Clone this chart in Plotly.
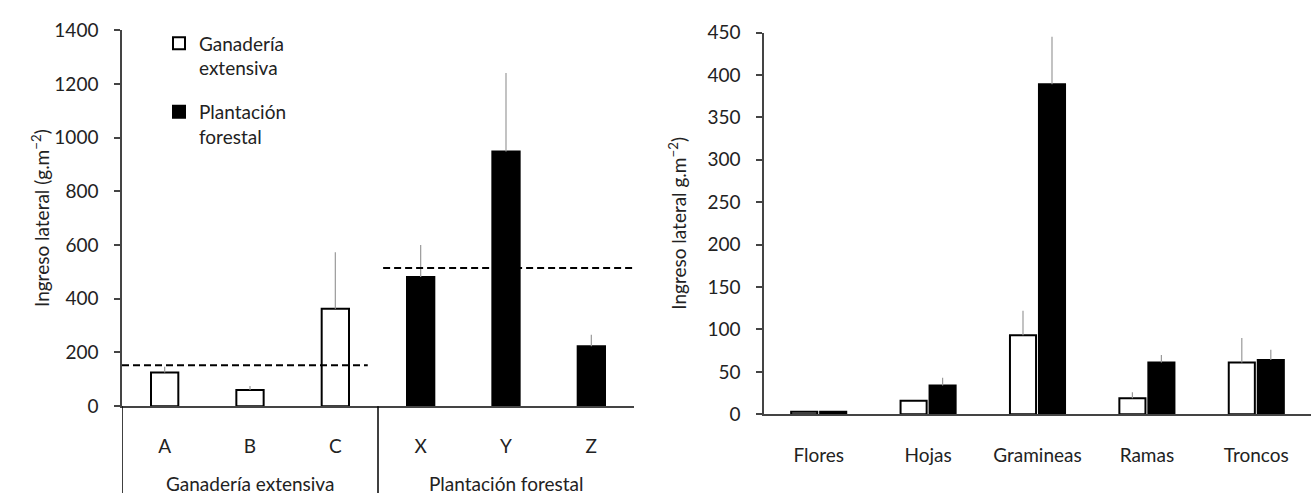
import plotly.graph_objects as go

# ---------------- data ----------------
left_categories = ["A", "B", "C", "X", "Y", "Z"]
left_groups = ["Ganadería extensiva", "Plantación forestal"]
ganaderia_left = [125, 60, 363]
ganaderia_left_err = [22, 15, 210]
plantacion_left = [481, 948, 223]
plantacion_left_err = [119, 292, 43]
group_means = [152, 514]

right_categories = ["Flores", "Hojas", "Gramineas", "Ramas", "Troncos"]
ganaderia_right = [3, 16, 93, 19, 61]
ganaderia_right_err = [0, 0, 29, 7, 29]
plantacion_right = [3, 34, 389, 61, 64]
plantacion_right_err = [0, 9, 56, 9, 12]

legend_names = ["Ganadería<br>extensiva", "Plantación<br>forestal"]

# ---------------- style ----------------
FONT = "Lato"
FS = 19
TXT = "#222222"
AXC = "#444444"
ERRC = "#9a9a9a"
W, H = 1314, 504

L_dom = [122 / W, 634 / W]
L_ydom = [1 - 413 / H, 1 - 19 / H]
R_dom = [764 / W, 1311 / W]
R_ydom = [1 - 421.5 / H, 1 - 21.5 / H]

fig = go.Figure()

n_g = len(ganaderia_left)
x_g = list(range(n_g))
x_p = list(range(n_g, n_g + len(plantacion_left)))

def err(arr):
    return dict(type="data", array=arr, arrayminus=[0] * len(arr), symmetric=False,
                width=0, thickness=1.2, color=ERRC)

fig.add_trace(go.Bar(
    x=x_g, y=ganaderia_left, name=legend_names[0], legendgroup="g",
    marker=dict(color="white", line=dict(color="black", width=2)),
    width=0.32, offsetgroup="L", error_y=err(ganaderia_left_err),
    xaxis="x", yaxis="y"))
fig.add_trace(go.Bar(
    x=x_p, y=plantacion_left, name=legend_names[1], legendgroup="p",
    marker=dict(color="black", line=dict(color="black", width=2)),
    width=0.32, offsetgroup="L", error_y=err(plantacion_left_err),
    xaxis="x", yaxis="y"))

# group mean dashed lines
spans = [(x_g[0] - 0.5, x_g[-1] + 0.38), (x_p[0] - 0.44, x_p[-1] + 0.5)]
for (a, b), m in zip(spans, group_means):
    fig.add_trace(go.Scatter(
        x=[a, b], y=[m, m], mode="lines", showlegend=False, hoverinfo="skip",
        line=dict(color="black", width=2, dash="7px,4px"), xaxis="x", yaxis="y"))

fig.add_trace(go.Bar(
    x=right_categories, y=ganaderia_right, showlegend=False,
    marker=dict(color="white", line=dict(color="black", width=2)),
    error_y=err(ganaderia_right_err), xaxis="x2", yaxis="y2"))
fig.add_trace(go.Bar(
    x=right_categories, y=plantacion_right, showlegend=False,
    marker=dict(color="black", line=dict(color="black", width=2)),
    error_y=err(plantacion_right_err), xaxis="x2", yaxis="y2"))

axis_common = dict(showgrid=False, zeroline=False, showline=True, linecolor=AXC,
                   linewidth=1.5, tickfont=dict(family=FONT, size=FS, color=TXT))

fig.update_layout(
    width=W, height=H,
    margin=dict(l=0, r=0, t=0, b=0),
    paper_bgcolor="white", plot_bgcolor="white",
    barmode="group", bargap=0.47, bargroupgap=0.1,
    font=dict(family=FONT, size=FS, color=TXT),
    xaxis=dict(domain=L_dom, anchor="y", range=[-0.5, 5.5],
               tickvals=x_g + x_p, ticktext=left_categories, ticks="",
               ticklabelstandoff=22, **axis_common),
    yaxis=dict(domain=L_ydom, anchor="x", range=[0, 1400], dtick=200,
               ticks="outside", ticklen=6, tickcolor=AXC, tickwidth=1.5,
               ticklabelstandoff=12,
               title=dict(text="Ingreso lateral (g.m<sup>−2</sup>)",
                          font=dict(family=FONT, size=FS, color=TXT), standoff=0),
               **axis_common),
    xaxis2=dict(domain=R_dom, anchor="y2", ticks="", ticklabelstandoff=23,
                **axis_common),
    yaxis2=dict(domain=R_ydom, anchor="x2", range=[0, 450], dtick=50,
                ticks="outside", ticklen=6, tickcolor=AXC, tickwidth=1.5,
                ticklabelstandoff=12,
                title=dict(text="Ingreso lateral g.m<sup>−2</sup>)",
                           font=dict(family=FONT, size=FS, color=TXT), standoff=16),
                **axis_common),
    legend=dict(x=0.121, y=1 - 13 / H, xanchor="left", yanchor="top",
                bgcolor="rgba(0,0,0,0)", valign="top", traceorder="grouped",
                tracegroupgap=16, itemwidth=30,
                font=dict(family=FONT, size=FS, color=TXT)),
)

# category group dividers and labels below the left axis
for xd in [x_g[0] - 0.5, x_p[0] - 0.5]:
    fig.add_shape(type="line", xref="x", yref="paper", x0=xd, x1=xd,
                  y0=0, y1=L_ydom[0], line=dict(color="black", width=1.5))
for grp, xs in zip(left_groups, [x_g, x_p]):
    fig.add_annotation(text=grp, xref="x", yref="paper",
                       x=(xs[0] + xs[-1]) / 2, y=1 - 494 / H, yanchor="middle",
                       showarrow=False, font=dict(family=FONT, size=FS, color=TXT))

fig.write_html("out.html")
